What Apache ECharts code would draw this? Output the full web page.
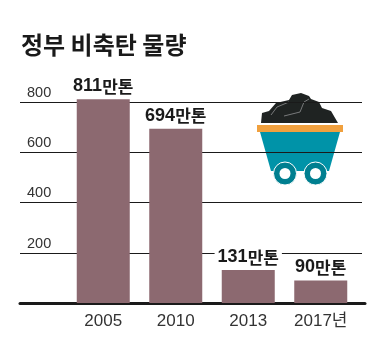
<!DOCTYPE html>
<html>
<head>
<meta charset="utf-8">
<script src="https://cdn.jsdelivr.net/npm/echarts@6/dist/echarts.min.js"></script>
<style>
html,body{margin:0;padding:0;background:#fff;}
#chart{width:388px;height:351px;}
</style>
</head>
<body>
<div id="chart"></div>
<script>
var years = ['2005','2010','2013','2017년'];
var amounts = [811,694,131,90];
var unit = '만톤';

var latin = "'Liberation Sans','Noto Sans CJK KR',sans-serif";
var hangul = "'Noto Sans CJK KR',sans-serif";

var myChart = echarts.init(document.getElementById('chart'));

// 탄차 그림
var cart = [
    {type:'polygon', shape:{points:[[261,123],[262,113],[269,111],[276,103],[289,100],[292,95],[301,93],[309,96],[311,99],[319,102],[322,108],[331,111],[338,123]]}, style:{fill:'#1f2322'}},
    {type:'polyline', shape:{points:[[271,115],[277,107],[289,102]]}, style:{stroke:'#77797a',lineWidth:1,fill:null}},
    {type:'polyline', shape:{points:[[284,116],[300,112],[304,102],[309,99]]}, style:{stroke:'#77797a',lineWidth:1,fill:null}},
    {type:'polygon', shape:{points:[[260,132],[340,132],[329,171],[271,171]]}, style:{fill:'#0093a8'}},
    {type:'rect', shape:{x:257,y:125,width:86,height:7}, style:{fill:'#f0a03e'}},
    {type:'circle', shape:{cx:285,cy:173.5,r:11.5}, style:{fill:'#007f90',stroke:'#fff',lineWidth:1}},
    {type:'circle', shape:{cx:285,cy:173.5,r:5.5}, style:{fill:'#fff'}},
    {type:'circle', shape:{cx:315.5,cy:173.5,r:11.5}, style:{fill:'#007f90',stroke:'#fff',lineWidth:1}},
    {type:'circle', shape:{cx:315.5,cy:173.5,r:5.5}, style:{fill:'#fff'}}
];

var option = {
    animation: false,
    backgroundColor: '#fff',
    title: {
        text: '정부 비축탄 물량',
        left: 16,
        top: 28,
        textStyle: {
            fontFamily: hangul,
            fontWeight: 'bold',
            fontSize: 24,
            color: '#1a1a1a'
        }
    },
    graphic: {elements: cart},
    grid: [
        {left:20, top:102, width:342, height:201},   // 눈금선
        {left:67, top:51.75, width:290, height:251.25},   // 막대
        {left:20, top:52, width:345, height:251.5}   // 바닥선
    ],
    xAxis: [
        {gridIndex:0, type:'value', min:0, max:1, show:false},
        {
            gridIndex:1,
            type:'category',
            data:years,
            axisLine:{show:false},
            axisTick:{show:false},
            axisLabel:{
                margin:10,
                interval:0,
                fontFamily:latin,
                fontSize:17,
                color:'#333'
            }
        },
        {
            gridIndex:2,
            type:'value',
            min:0,
            max:1,
            axisLine:{show:true,onZero:false,lineStyle:{color:'#1a1a1a',width:3}},
            axisTick:{show:false},
            axisLabel:{show:false},
            splitLine:{show:false}
        }
    ],
    yAxis: [
        {
            gridIndex:0,
            type:'value',
            min:0,
            max:800,
            interval:200,
            axisLine:{show:false},
            axisTick:{show:false},
            axisLabel:{
                inside:true,
                margin:7,
                showMinLabel:false,
                verticalAlign:'bottom',
                padding:[0,0,2,0],
                fontFamily:latin,
                fontSize:14.5,
                color:'#333'
            },
            splitLine:{show:true,lineStyle:{color:'#1a1a1a',width:1}}
        },
        {gridIndex:1, type:'value', min:0, max:1000, show:false},
        {gridIndex:2, type:'value', min:0, max:1000, show:false}
    ],
    series: [{
        type:'bar',
        xAxisIndex:1,
        yAxisIndex:1,
        data:amounts,
        barWidth:53,
        itemStyle:{color:'#8c6970'},
        label:{
            show:true,
            position:'top',
            distance:4,
            formatter:function(params){
                return '{n|' + params.value + '}{u|' + unit + '}';
            },
            backgroundColor:'#fff',
            padding:[0,3],
            rich:{
                n:{fontFamily:latin,fontWeight:'bold',fontSize:18,color:'#1a1a1a',lineHeight:18},
                u:{fontFamily:hangul,fontWeight:'bold',fontSize:17,color:'#1a1a1a',lineHeight:18}
            }
        }
    }]
};

myChart.setOption(option);
</script>
</body>
</html>
